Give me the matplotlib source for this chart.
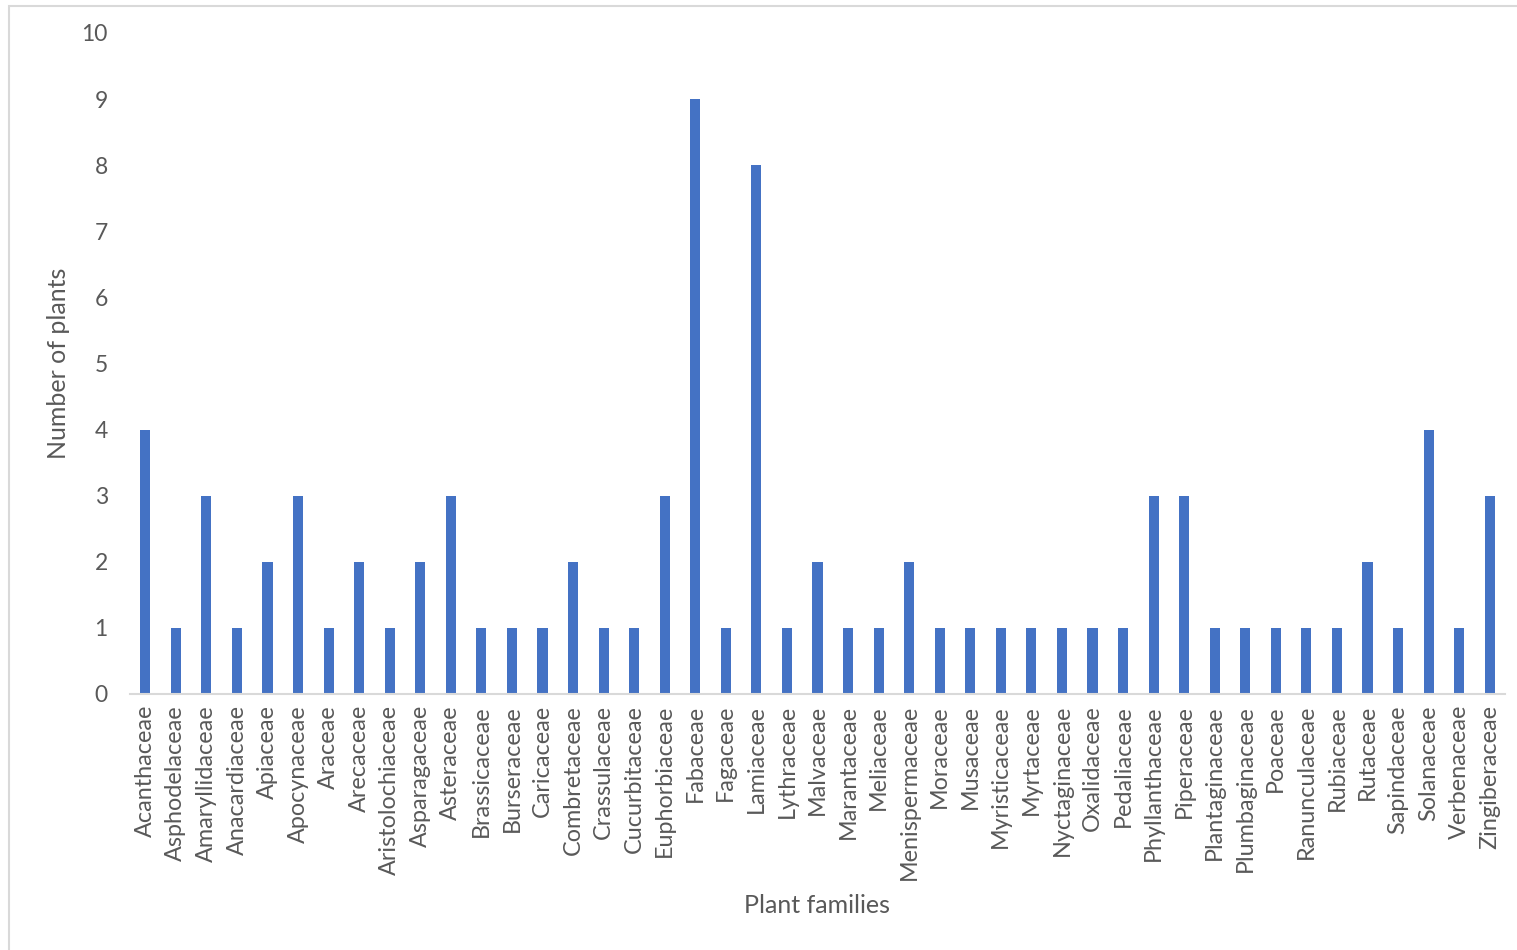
import matplotlib
matplotlib.use("Agg")
import matplotlib.pyplot as plt
from matplotlib.patches import Rectangle

families = [
    "Acanthaceae", "Asphodelaceae", "Amaryllidaceae", "Anacardiaceae", "Apiaceae",
    "Apocynaceae", "Araceae", "Arecaceae", "Aristolochiaceae", "Asparagaceae",
    "Asteraceae", "Brassicaceae", "Burseraceae", "Caricaceae", "Combretaceae",
    "Crassulaceae", "Cucurbitaceae", "Euphorbiaceae", "Fabaceae", "Fagaceae",
    "Lamiaceae", "Lythraceae", "Malvaceae", "Marantaceae", "Meliaceae",
    "Menispermaceae", "Moraceae", "Musaceae", "Myristicaceae", "Myrtaceae",
    "Nyctaginaceae", "Oxalidaceae", "Pedaliaceae", "Phyllanthaceae", "Piperaceae",
    "Plantaginaceae", "Plumbaginaceae", "Poaceae", "Ranunculaceae", "Rubiaceae",
    "Rutaceae", "Sapindaceae", "Solanaceae", "Verbenaceae", "Zingiberaceae",
]
counts = [
    4, 1, 3, 1, 2, 3, 1, 2, 1, 2,
    3, 1, 1, 1, 2, 1, 1, 3, 9, 1,
    8, 1, 2, 1, 1, 2, 1, 1, 1, 1,
    1, 1, 1, 3, 3, 1, 1, 1, 1, 1,
    2, 1, 4, 1, 3,
]
y_ticks = list(range(0, 11))

plt.rcParams["font.family"] = ["Lato", "DejaVu Sans"]
text_color = "#595959"
bar_color = "#4472C4"
line_color = "#D9D9D9"

W, H = 1517, 950
fig = plt.figure(figsize=(W / 100, H / 100), dpi=100)
fig.patch.set_facecolor("white")

# chart-area frame
fig.patches.append(Rectangle((8.5 / W, -0.1), 1.2, 1.1 - 5.5 / H,
                             transform=fig.transFigure, fill=False,
                             edgecolor=line_color, linewidth=1.5))

ax = fig.add_axes([130 / W, 1 - 694 / H, (1505 - 130) / W, (694 - 33) / H])
x = range(len(families))
ax.bar(x, counts, width=0.33, color=bar_color, zorder=2)

ax.set_xlim(-0.5, len(families) - 0.5)
ax.set_ylim(0, 10)
ax.set_yticks(y_ticks)
ax.set_xticks(list(x))
ax.set_xticklabels(families, rotation=90, fontsize=16.8, color=text_color)
ax.tick_params(axis="y", labelsize=16.5, labelcolor=text_color, length=0, pad=16)
ax.tick_params(axis="x", length=0, pad=8)

for side in ("top", "right", "left"):
    ax.spines[side].set_visible(False)
ax.spines["bottom"].set_color(line_color)
ax.spines["bottom"].set_linewidth(1.5)

ax.set_xlabel("Plant families", fontsize=18, color=text_color, labelpad=10)
ax.set_ylabel("Number of plants", fontsize=18, color=text_color, labelpad=8)

fig.savefig("out.png", dpi=100)
